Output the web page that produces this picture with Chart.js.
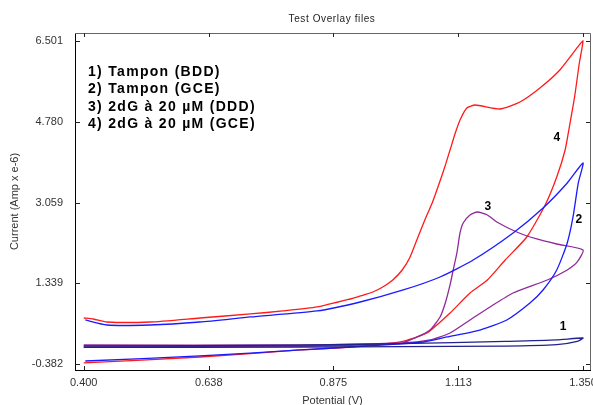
<!DOCTYPE html>
<html lang="en">
<head>
    <meta charset="UTF-8">
    <title>Test Overlay files</title>
    <script src="https://cdn.jsdelivr.net/npm/chart.js"></script>
    <style>
        body {
            margin: 0;
            padding: 0;
            background: #fff;
        }
        .chart-container {
            width: 593px;
            height: 405px;
            position: relative;
        }
    </style>
</head>
<body>

<div class="chart-container">
    <canvas id="cvChart"></canvas>
</div>

<script>
    // Axis ticks as printed on the original plot
    const xTicks = [0.400, 0.638, 0.875, 1.113, 1.350];
    const yTicks = [6.501, 4.780, 3.059, 1.339, -0.382];

    const seriesNames = ['1) Tampon (BDD)', '2) Tampon (GCE)', '3) 2dG à 20 µM (DDD)', '4) 2dG à 20 µM (GCE)'];

    // 1) Tampon (BDD)
    const bddV = [0.400, 0.812, 1.002, 1.202, 1.300, 1.350, 1.339, 1.300, 1.202, 1.002, 0.812, 0.400];
    const bddI = [0.002, 0.020, 0.050, 0.100, 0.130, 0.172, 0.100, 0.030, 0.000, -0.010, -0.020, -0.030];

    // 2) Tampon (GCE)
    const gceV = [0.403, 0.621, 0.812, 0.907, 0.996, 1.046, 1.091, 1.154, 1.205, 1.249, 1.274, 1.300, 1.320, 1.331, 1.341, 1.350,
                  1.320, 1.274, 1.217, 1.141, 1.078, 1.008, 0.926, 0.844, 0.717, 0.621, 0.526, 0.444, 0.403];
    const gceI = [-0.318, -0.211, -0.083, -0.020, 0.044, 0.087, 0.194, 0.342, 0.556, 0.918, 1.195, 1.621, 2.197, 2.751, 3.475, 3.901,
                  3.475, 2.942, 2.410, 1.834, 1.472, 1.195, 0.939, 0.748, 0.620, 0.513, 0.449, 0.449, 0.556];

    // 3) 2dG à 20 µM (DDD)
    const dgdV = [0.400, 0.812, 1.002, 1.034, 1.059, 1.078, 1.088, 1.097, 1.103, 1.110, 1.116, 1.122, 1.135, 1.149, 1.168, 1.186, 1.224, 1.262, 1.300, 1.350,
                  1.339, 1.320, 1.282, 1.217, 1.173, 1.135, 1.097, 1.059, 1.002, 0.812, 0.400];
    const dgdI = [-0.020, 0.000, 0.060, 0.194, 0.343, 0.620, 0.918, 1.302, 1.621, 1.983, 2.410, 2.623, 2.793, 2.857, 2.793, 2.644, 2.431, 2.282, 2.175, 2.047,
                  1.792, 1.621, 1.408, 1.131, 0.833, 0.556, 0.279, 0.130, 0.066, 0.023, 0.023];

    // 4) 2dG à 20 µM (GCE)
    const dggV = [0.400, 0.621, 0.812, 0.907, 1.002, 1.053, 1.097, 1.135, 1.168, 1.202, 1.243, 1.278, 1.300, 1.316, 1.324, 1.334, 1.343, 1.350,
                  1.343, 1.306, 1.268, 1.230, 1.192, 1.145, 1.129, 1.116, 1.107, 1.097, 1.087, 1.074, 1.063, 1.049, 1.036, 1.021, 1.006,
                  0.988, 0.969, 0.950, 0.926, 0.907, 0.844, 0.779, 0.717, 0.621, 0.526, 0.444, 0.418, 0.400];
    const dggI = [-0.360, -0.233, -0.083, -0.020, 0.087, 0.279, 0.705, 1.131, 1.408, 1.834, 2.324, 3.006, 3.603, 4.178, 4.668, 5.308, 6.032, 6.501,
                  6.416, 5.883, 5.500, 5.201, 5.052, 5.137, 5.073, 4.818, 4.540, 4.178, 3.816, 3.390, 3.049, 2.687, 2.324, 1.898, 1.621,
                  1.408, 1.259, 1.152, 1.067, 1.003, 0.833, 0.748, 0.684, 0.598, 0.513, 0.513, 0.577, 0.598];

    // Curve number tags (potential, current)
    const tagText = ['1', '2', '3', '4'];
    const tagV = [1.312, 1.342, 1.169, 1.300];
    const tagI = [0.41, 2.69, 2.96, 4.43];

    const FONT = '"Liberation Sans", Arial, sans-serif';

    function toPoints(xs, ys) {
        return xs.map((v, i) => ({ x: v, y: ys[i] }));
    }

    function makeSet(label, xs, ys, color) {
        return {
            label: label,
            data: toPoints(xs, ys),
            showLine: true,
            borderColor: color,
            borderWidth: 1.3,
            pointRadius: 0,
            tension: 0.2,
            fill: false
        };
    }

    // frame, inward tick marks, legend text, curve tags and title
    const overlayPlugin = {
        id: 'overlay',
        afterDraw(chart) {
            const { ctx, chartArea: a, scales } = chart;
            const xs = scales.x, ys = scales.y;
            ctx.save();

            ctx.strokeStyle = '#666';
            ctx.lineWidth = 1;
            ctx.beginPath();
            ctx.moveTo(a.left, a.top + 0.5);
            ctx.lineTo(a.right + 0.5, a.top + 0.5);
            ctx.lineTo(a.right + 0.5, a.bottom);
            ctx.stroke();

            ctx.strokeStyle = '#222';
            ctx.beginPath();
            xs.ticks.forEach(t => {
                const px = Math.round(xs.getPixelForValue(t.value)) + 0.5;
                ctx.moveTo(px, a.bottom); ctx.lineTo(px, a.bottom - 4);
                ctx.moveTo(px, a.top); ctx.lineTo(px, a.top + 4);
            });
            ys.ticks.forEach(t => {
                const py = Math.round(ys.getPixelForValue(t.value)) + 0.5;
                ctx.moveTo(a.left, py); ctx.lineTo(a.left + 5, py);
                ctx.moveTo(a.right, py); ctx.lineTo(a.right - 4, py);
            });
            ctx.stroke();

            // legend as plain bold text
            ctx.fillStyle = '#000';
            ctx.font = 'bold 14px ' + FONT;
            ctx.letterSpacing = '1.3px';
            ctx.textBaseline = 'middle';
            ctx.textAlign = 'left';
            chart.data.datasets.forEach((d, i) => {
                ctx.fillText(d.label, 88, 72 + i * 17.5);
            });

            ctx.font = 'bold 12px ' + FONT;
            ctx.letterSpacing = '0px';
            ctx.textAlign = 'center';
            tagText.forEach((t, i) => {
                ctx.fillText(t, xs.getPixelForValue(tagV[i]), ys.getPixelForValue(tagI[i]));
            });

            ctx.font = '10px ' + FONT;
            ctx.letterSpacing = '0.6px';
            ctx.fillStyle = '#222';
            ctx.fillText('Test Overlay files', 332, 19);
            ctx.restore();
        }
    };

    const ctx = document.getElementById('cvChart').getContext('2d');
    new Chart(ctx, {
        type: 'scatter',
        data: {
            datasets: [
                makeSet(seriesNames[0], bddV, bddI, '#22228c'),
                makeSet(seriesNames[1], gceV, gceI, '#1a1aff'),
                makeSet(seriesNames[2], dgdV, dgdI, '#8e2a9a'),
                makeSet(seriesNames[3], dggV, dggI, '#ff1a1a')
            ]
        },
        options: {
            responsive: true,
            maintainAspectRatio: false,
            animation: false,
            layout: { padding: { top: 33, right: 3, bottom: 0, left: 0 } },
            plugins: {
                legend: { display: false },
                tooltip: { enabled: false }
            },
            scales: {
                x: {
                    type: 'linear',
                    min: 0.3834,
                    max: 1.3633,
                    afterBuildTicks: s => { s.ticks = xTicks.map(v => ({ value: v })); },
                    afterFit: s => { s.height = 35; s.paddingLeft = 0; s.paddingRight = 0; },
                    grid: { drawOnChartArea: false, drawTicks: false },
                    border: { display: true, color: '#000', width: 1 },
                    ticks: {
                        padding: 6,
                        color: '#333',
                        font: { family: FONT, size: 11 },
                        maxRotation: 0,
                        autoSkip: false,
                        callback: v => v.toFixed(3)
                    },
                    title: {
                        display: true,
                        text: 'Potential (V)',
                        color: '#333',
                        font: { family: FONT, size: 11, lineHeight: 1.0 },
                        padding: { top: 0, bottom: -1 }
                    }
                },
                y: {
                    type: 'linear',
                    min: -0.510,
                    max: 6.671,
                    afterBuildTicks: s => { s.ticks = yTicks.map(v => ({ value: v })); },
                    afterFit: s => { s.width = 75; s.paddingTop = 0; s.paddingBottom = 0; },
                    grid: { drawOnChartArea: false, drawTicks: false },
                    border: { display: true, color: '#000', width: 1 },
                    ticks: {
                        padding: 12,
                        color: '#333',
                        font: { family: FONT, size: 11 },
                        autoSkip: false,
                        callback: v => v.toFixed(3)
                    },
                    title: {
                        display: true,
                        text: 'Current (Amp x e-6)',
                        color: '#333',
                        font: { family: FONT, size: 11, lineHeight: 1.2 },
                        padding: { top: 8, bottom: 0 }
                    }
                }
            }
        },
        plugins: [overlayPlugin]
    });
</script>
</body>
</html>
